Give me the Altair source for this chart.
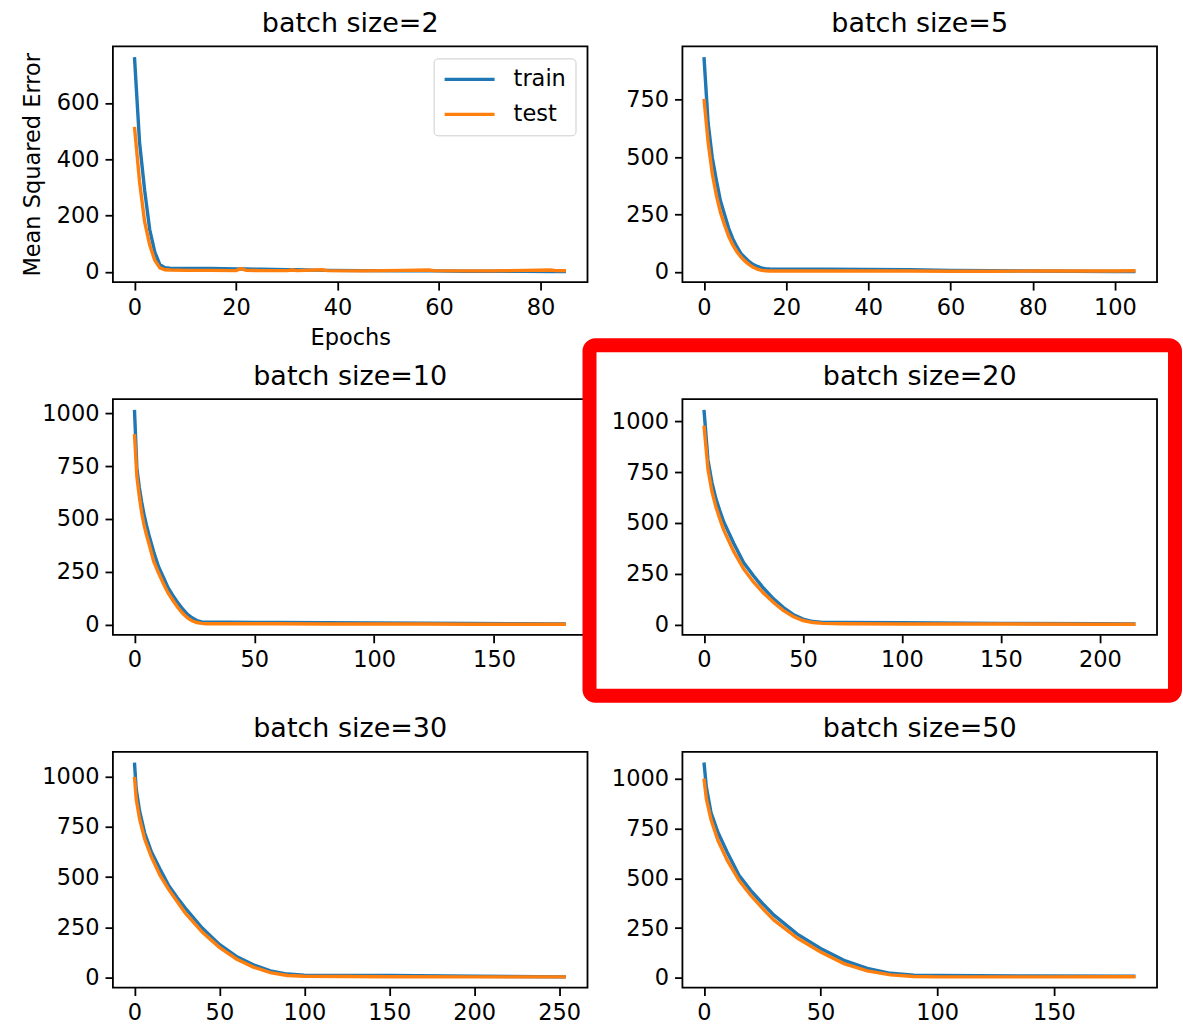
import altair as alt
import pandas as pd

FONT = "DejaVu Sans"
W, H = 475, 236

titles = ["batch size=2", "batch size=5", "batch size=10",
          "batch size=20", "batch size=30", "batch size=50"]

# batch size = 2
ep_bs2 = [0, 1, 2, 3, 4, 5, 6, 7, 10, 15, 20, 21, 22, 25, 30, 31, 32, 37, 38,
          45, 53, 58, 59, 65, 70, 77, 82, 83, 85]
train_bs2 = [763, 460, 290, 150, 70, 25, 14, 13, 12, 12, 10, 10, 10, 9, 7, 7, 7,
             5, 5, 4, 3, 3, 3, 2, 2, 2, 1, 1, 1]
test_bs2 = [515, 320, 178, 95, 41, 14, 7, 6, 5, 5, 4, 11, 5, 4, 4, 6, 4, 7, 4,
            3, 5, 6, 4, 3, 3, 5, 6, 4, 4]

# batch size = 5
ep_bs5 = [0, 1, 2, 3, 4, 5, 6, 7, 8, 9, 10, 11, 12, 13, 14, 15, 16, 20, 30, 40,
          50, 60, 70, 80, 90, 100, 105]
train_bs5 = [936, 650, 500, 400, 310, 250, 190, 145, 110, 80, 62, 45, 32, 24, 17,
             14, 13, 12, 12, 11, 10, 7, 5, 4, 3, 2, 2]
test_bs5 = [754, 566, 430, 335, 260, 205, 155, 118, 88, 65, 47, 32, 20, 12, 7, 5,
            4, 4, 4, 4, 4, 3, 3, 4, 4, 4, 5]

# batch size = 10
ep_bs10 = [0, 1, 2, 3, 4, 5, 6, 8, 10, 12, 14, 16, 18, 20, 22, 24, 26, 28, 30,
           40, 60, 80, 100, 120, 140, 160, 180]
train_bs10 = [1016, 740, 650, 580, 520, 470, 425, 345, 275, 225, 175, 138, 105,
              75, 50, 32, 19, 13, 11, 11, 10, 9, 8, 7, 5, 4, 3]
test_bs10 = [901, 700, 608, 530, 470, 425, 385, 300, 245, 195, 150, 115, 82, 55,
             33, 18, 10, 6, 4, 4, 4, 3, 3, 3, 2, 2, 2]

# batch size = 20
ep_bs20 = [0, 2, 4, 6, 8, 10, 15, 20, 25, 30, 35, 40, 45, 50, 55, 60, 70, 100,
           150, 200, 218]
train_bs20 = [1057, 810, 700, 620, 560, 505, 400, 305, 240, 180, 128, 85, 50, 27,
              15, 11, 10, 9, 6, 4, 3]
test_bs20 = [979, 765, 655, 580, 520, 465, 360, 275, 210, 155, 110, 70, 40, 20,
             10, 6, 4, 3, 3, 2, 2]

# batch size = 30
ep_bs30 = [0, 1, 3, 6, 10, 15, 20, 25, 30, 40, 50, 60, 70, 80, 90, 100, 150, 200,
           254]
train_bs30 = [1071, 940, 830, 720, 625, 540, 460, 400, 345, 245, 165, 105, 63, 33,
              17, 12, 10, 6, 3]
test_bs30 = [1000, 890, 790, 690, 600, 510, 440, 380, 320, 225, 150, 92, 52, 24,
             10, 6, 4, 3, 3]

# batch size = 50
ep_bs50 = [0, 1, 3, 6, 10, 15, 20, 25, 30, 40, 50, 60, 70, 80, 90, 100, 140, 185]
train_bs50 = [1082, 960, 830, 730, 630, 515, 440, 375, 315, 220, 148, 88, 48, 23,
              13, 12, 10, 8]
test_bs50 = [1002, 900, 795, 690, 590, 490, 415, 350, 290, 200, 130, 72, 35, 15,
             7, 5, 5, 6]

x_ticks = [[0, 20, 40, 60, 80], [0, 20, 40, 60, 80, 100], [0, 50, 100, 150],
           [0, 50, 100, 150, 200], [0, 50, 100, 150, 200, 250], [0, 50, 100, 150]]
y_ticks = [[0, 200, 400, 600], [0, 250, 500, 750], [0, 250, 500, 750, 1000],
           [0, 250, 500, 750, 1000], [0, 250, 500, 750, 1000],
           [0, 250, 500, 750, 1000]]

series_names = ["train", "test"]
series_colors = ["#1f77b4", "#ff7f0e"]

epochs_all = [ep_bs2, ep_bs5, ep_bs10, ep_bs20, ep_bs30, ep_bs50]
train_all = [train_bs2, train_bs5, train_bs10, train_bs20, train_bs30, train_bs50]
test_all = [test_bs2, test_bs5, test_bs10, test_bs20, test_bs30, test_bs50]

TITLE_OFFSET = 8.5


def panel(i):
    ep, tr, te = epochs_all[i], train_all[i], test_all[i]
    first = i == 0
    rows = [{"epoch": e, "mse": v, "series": "train"} for e, v in zip(ep, tr)]
    rows += [{"epoch": e, "mse": v, "series": "test"} for e, v in zip(ep, te)]
    df = pd.DataFrame(rows)
    xmax = max(ep)
    ymin, ymax = min(tr + te), max(tr + te)
    pad = 0.05 * (ymax - ymin)
    xscale = alt.Scale(domain=[-0.05 * xmax, 1.05 * xmax], nice=False, zero=False)
    yscale = alt.Scale(domain=[ymin - pad, ymax + pad], nice=False, zero=False)
    xaxis = alt.Axis(values=x_ticks[i], format="d", labelFlush=False,
                     labelOverlap=False, title="Epochs" if first else None)
    yaxis = alt.Axis(values=y_ticks[i], format="d", labelOverlap=False,
                     title="Mean Squared Error" if first else None)
    cscale = alt.Scale(domain=series_names, range=series_colors)
    if first:
        legend = alt.Legend(title=None, orient="top-right", offset=12, padding=9,
                            strokeColor="#cccccc", fillColor="rgba(255,255,255,0.8)",
                            cornerRadius=4, symbolType="M-1,0H4", symbolSize=400,
                            symbolStrokeWidth=3.4, symbolFillColor="transparent",
                            labelOffset=47, rowPadding=11,
                            labelFont=FONT, labelFontSize=22.5, labelColor="black")
    else:
        legend = None
    layers = []
    for name in series_names:
        layers.append(
            alt.Chart(df).transform_filter(alt.datum.series == name)
            .mark_line(strokeWidth=3.4, clip=True)
            .encode(x=alt.X("epoch:Q", scale=xscale, axis=xaxis),
                    y=alt.Y("mse:Q", scale=yscale, axis=yaxis),
                    color=alt.Color("series:N", scale=cscale, legend=legend))
        )
    offset = TITLE_OFFSET
    if i == 3:
        # red highlight frame around the "batch size=20" panel
        frame = alt.Chart(pd.DataFrame({"k": [0]})).mark_rect(
            filled=False, stroke="#ff0000", strokeWidth=14, cornerRadius=6
        ).encode(x=alt.value(-93), x2=alt.value(493), y=alt.value(-54),
                 y2=alt.value(297))
        layers.append(frame)
        # the frame enlarges this panel's bounds upward; compensate the title
        offset = TITLE_OFFSET - 61
    return alt.layer(*layers).properties(
        width=W, height=H, title=alt.TitleParams(titles[i], offset=offset)
    )


chart = (
    alt.concat(*[panel(i) for i in range(6)], columns=2,
               spacing={"row": 117, "column": 95}, bounds="flush")
    .resolve_scale(color="independent", x="independent", y="independent")
    .resolve_legend(color="independent")
    .configure_view(stroke="black", strokeWidth=1.8)
    .configure_axis(grid=False, domain=False, tickColor="black", tickWidth=1.8,
                    tickSize=7.9, labelFont=FONT, labelFontSize=22.5,
                    labelColor="black", labelPadding=6, titleFont=FONT,
                    titleFontSize=22.5, titleFontWeight="normal",
                    titleColor="black")
    .configure_axisY(titlePadding=12)
    .configure_axisX(titlePadding=8)
    .configure_title(font=FONT, fontSize=27, fontWeight="normal", color="black",
                     anchor="middle", frame="group", baseline="alphabetic")
    .properties(padding={"left": 20, "top": 8, "right": 0, "bottom": 0},
                background="white")
)

chart.save("out.html", embed_options={"renderer": "svg", "actions": False})
